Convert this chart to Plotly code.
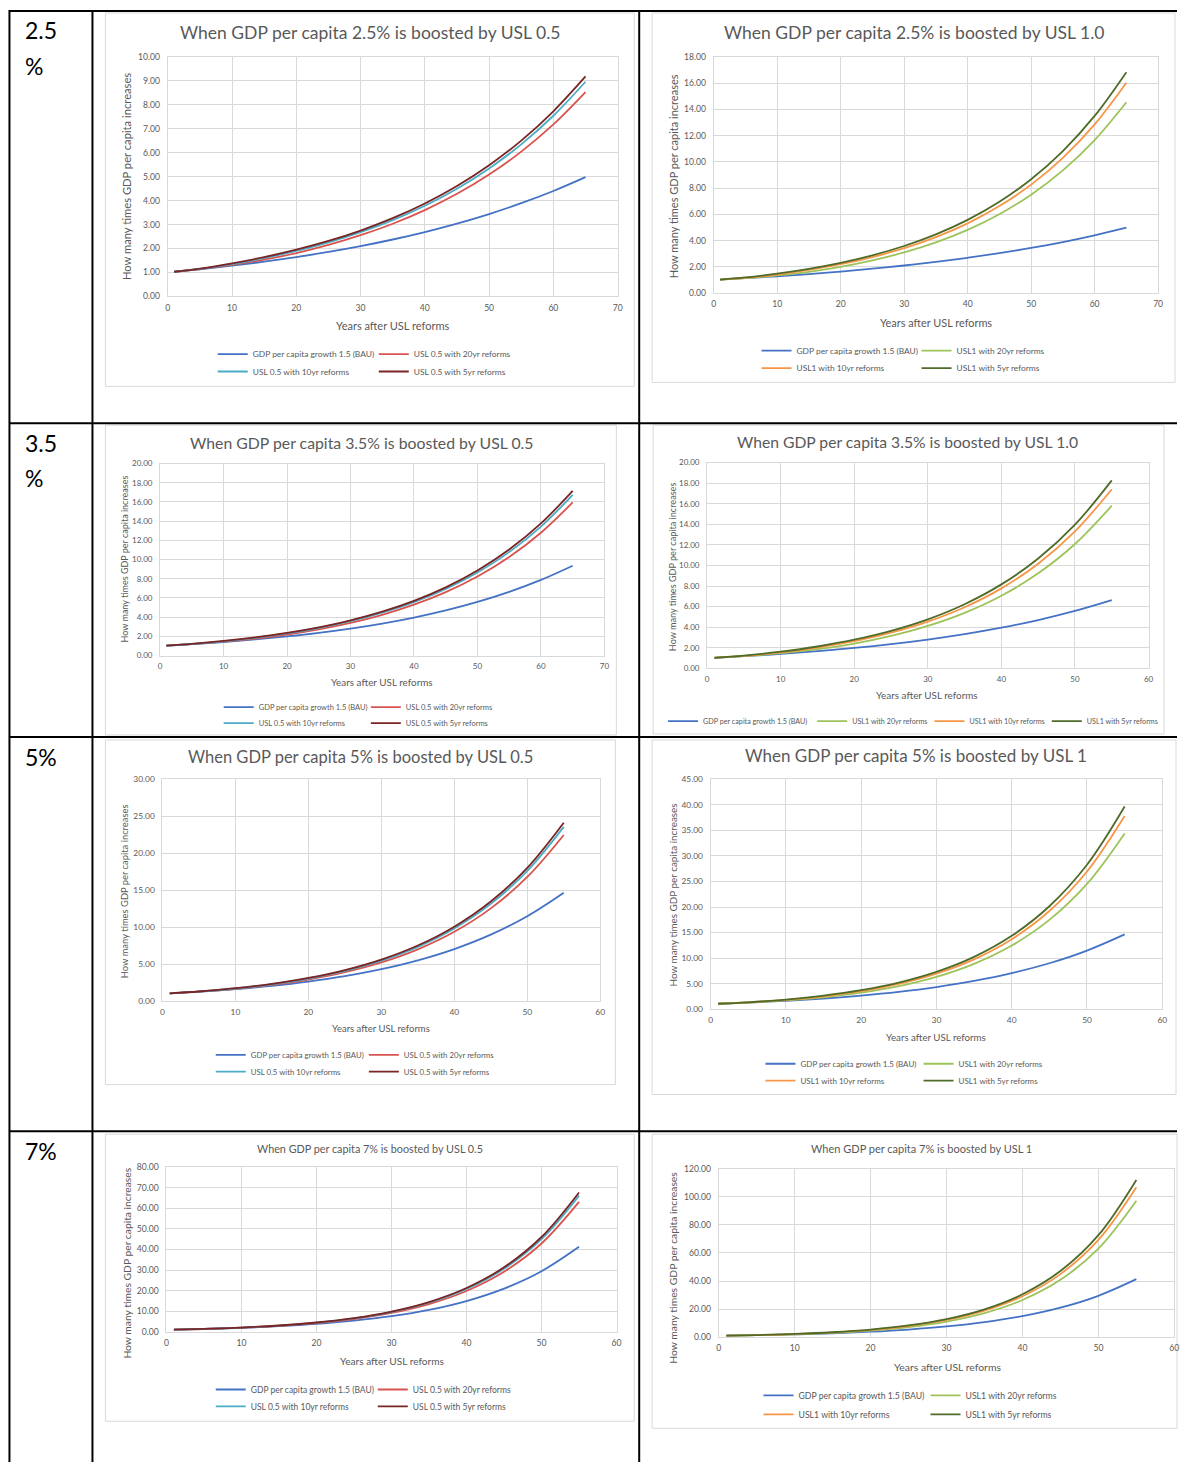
import plotly.graph_objects as go

W, H = 1182, 1467
FONT = "Lato"
GREY_TXT = "#595959"
GRID = "#D9D9D9"

# ---------------- data ----------------
YEARS_65 = [1, 5, 10, 15, 20, 25, 30, 35, 40, 45, 50, 55, 60, 65]
YEARS_55 = [1, 5, 10, 15, 20, 25, 30, 35, 40, 45, 50, 55]

# 2.5 % growth
BAU_2_5 = [1.025, 1.131, 1.280, 1.448, 1.639, 1.854, 2.098, 2.373, 2.685, 3.038, 3.437, 3.889, 4.400, 4.978]
USL05_2_5_20YR = [1.025, 1.138, 1.312, 1.530, 1.807, 2.148, 2.552, 3.032, 3.603, 4.281, 5.087, 6.044, 7.182, 8.534]
USL05_2_5_10YR = [1.026, 1.145, 1.344, 1.597, 1.898, 2.255, 2.680, 3.184, 3.784, 4.496, 5.342, 6.348, 7.543, 8.963]
USL05_2_5_5YR = [1.026, 1.160, 1.378, 1.637, 1.945, 2.311, 2.746, 3.263, 3.878, 4.608, 5.475, 6.505, 7.730, 9.185]
USL1_2_5_20YR = [1.026, 1.145, 1.344, 1.616, 1.991, 2.484, 3.098, 3.864, 4.820, 6.012, 7.498, 9.352, 11.665, 14.550]
USL1_2_5_10YR = [1.026, 1.159, 1.411, 1.760, 2.195, 2.738, 3.415, 4.260, 5.313, 6.627, 8.266, 10.310, 12.859, 16.039]
USL1_2_5_5YR = [1.027, 1.188, 1.482, 1.848, 2.305, 2.875, 3.586, 4.473, 5.579, 6.958, 8.679, 10.825, 13.502, 16.841]

# 3.5 % growth
BAU_3_5 = [1.035, 1.188, 1.411, 1.675, 1.990, 2.363, 2.807, 3.334, 3.959, 4.702, 5.585, 6.633, 7.878, 9.357]
USL05_3_5_20YR = [1.035, 1.195, 1.445, 1.769, 2.192, 2.733, 3.408, 4.248, 5.297, 6.603, 8.232, 10.263, 12.795, 15.952]
USL05_3_5_10YR = [1.036, 1.202, 1.481, 1.846, 2.301, 2.869, 3.577, 4.460, 5.560, 6.931, 8.642, 10.773, 13.431, 16.745]
USL05_3_5_5YR = [1.036, 1.217, 1.517, 1.891, 2.358, 2.940, 3.665, 4.569, 5.696, 7.102, 8.854, 11.038, 13.761, 17.157]
USL1_3_5_20YR = [1.036, 1.202, 1.480, 1.867, 2.413, 3.157, 4.129, 5.401, 7.064, 9.240, 12.086, 15.809]
USL1_3_5_10YR = [1.036, 1.217, 1.554, 2.032, 2.658, 3.477, 4.547, 5.948, 7.780, 10.176, 13.311, 17.411]
USL1_3_5_5YR = [1.037, 1.246, 1.630, 2.133, 2.789, 3.648, 4.772, 6.242, 8.165, 10.679, 13.969, 18.271]

# 5 % growth
BAU_5 = [1.050, 1.276, 1.629, 2.079, 2.653, 3.386, 4.322, 5.516, 7.040, 8.985, 11.467, 14.636]
USL05_5_20YR = [1.050, 1.284, 1.668, 2.193, 2.918, 3.905, 5.226, 6.995, 9.362, 12.529, 16.769, 22.443]
USL05_5_10YR = [1.051, 1.292, 1.708, 2.286, 3.060, 4.095, 5.481, 7.335, 9.817, 13.139, 17.584, 23.534]
USL05_5_5YR = [1.051, 1.307, 1.749, 2.341, 3.133, 4.193, 5.612, 7.511, 10.053, 13.454, 18.007, 24.100]
USL1_5_20YR = [1.051, 1.292, 1.708, 2.313, 3.209, 4.503, 6.320, 8.870, 12.449, 17.471, 24.521, 34.414]
USL1_5_10YR = [1.051, 1.307, 1.791, 2.514, 3.528, 4.952, 6.950, 9.754, 13.689, 19.213, 26.964, 37.843]
USL1_5_5YR = [1.052, 1.338, 1.878, 2.636, 3.700, 5.193, 7.288, 10.228, 14.355, 20.147, 28.276, 39.684]

# 7 % growth
BAU_7 = [1.070, 1.403, 1.967, 2.759, 3.870, 5.427, 7.612, 10.677, 14.975, 21.003, 29.457, 41.315]
USL05_7_20YR = [1.070, 1.411, 2.014, 2.909, 4.251, 6.249, 9.187, 13.505, 19.853, 29.185, 42.903, 63.069]
USL05_7_10YR = [1.071, 1.419, 2.062, 3.031, 4.456, 6.550, 9.629, 14.155, 20.808, 30.589, 44.967, 66.104]
USL05_7_5YR = [1.071, 1.436, 2.111, 3.103, 4.562, 6.706, 9.858, 14.492, 21.303, 31.316, 46.037, 67.676]
USL1_7_20YR = [1.071, 1.419, 2.063, 3.070, 4.679, 7.217, 11.131, 17.168, 26.479, 40.839, 62.987, 97.147]
USL1_7_10YR = [1.071, 1.436, 2.163, 3.336, 5.146, 7.936, 12.241, 18.879, 29.118, 44.909, 69.265, 106.829]
USL1_7_5YR = [1.072, 1.471, 2.268, 3.499, 5.396, 8.323, 12.836, 19.797, 30.534, 47.094, 72.634, 112.025]

LABELS_USL05 = ["GDP per capita growth 1.5 (BAU)", "USL 0.5 with 20yr reforms",
                "USL 0.5 with 10yr reforms", "USL 0.5 with 5yr reforms"]
LABELS_USL1 = ["GDP per capita growth 1.5 (BAU)", "USL1 with 20yr reforms",
               "USL1 with 10yr reforms", "USL1 with 5yr reforms"]
COLORS_USL05 = ["#4472C4", "#D9534F", "#4BACC6", "#7A2424"]
COLORS_USL1 = ["#4472C4", "#9DC35A", "#F79646", "#4F6B28"]

ROW_LABELS = [("2.5", 25), ("%", 61), ("3.5", 441), ("%", 476), ("5%", 757), ("7%", 1154)]

TITLES = [
    "When GDP per capita 2.5% is boosted by USL 0.5",
    "When GDP per capita 2.5% is boosted by USL 1.0",
    "When GDP per capita 3.5% is boosted by USL 0.5",
    "When GDP per capita 3.5% is boosted by USL 1.0",
    "When GDP per capita 5% is boosted by USL 0.5",
    "When GDP per capita 5% is boosted by USL 1",
    "When GDP per capita 7% is boosted by USL 0.5",
    "When GDP per capita 7% is boosted by USL 1",
]
Y_TITLE = "How many times GDP per capita increases"
X_TITLE = "Years after USL reforms"

# ---------------- chart layout specs (pixel positions) ----------------
CHARTS = [
    dict(x=YEARS_65, ys=[BAU_2_5, USL05_2_5_20YR, USL05_2_5_10YR, USL05_2_5_5YR], lab=LABELS_USL05, col=COLORS_USL05,
         px=(166.8, 619.3), py=(52.3, 293.3), xmax=70, ymax=10, dy=1, box=(104, 8, 636, 384),
         t=(370, 27.5, 17.5), yt=(126, 173, 11.2), xt=(393, 323, 11.0), tick=8.6,
         leg=[(217, 351.5), (379, 351.5), (217, 369), (379, 369)], lf=8.4),
    dict(x=YEARS_65, ys=[BAU_2_5, USL1_2_5_20YR, USL1_2_5_10YR, USL1_2_5_5YR], lab=LABELS_USL1, col=COLORS_USL1,
         px=(715.9, 1163), py=(52.3, 290), xmax=70, ymax=18, dy=2, box=(654, 8, 1180, 380),
         t=(917, 27.5, 17.5), yt=(675.5, 172, 11.0), xt=(940, 319.5, 10.9), tick=8.6,
         leg=[(764, 348), (925, 348), (764, 365.7), (925, 365.7)], lf=8.4),
    dict(x=YEARS_65, ys=[BAU_3_5, USL05_3_5_20YR, USL05_3_5_10YR, USL05_3_5_5YR], lab=LABELS_USL05, col=COLORS_USL05,
         px=(159, 606), py=(461.7, 655), xmax=70, ymax=20, dy=2, box=(104, 423, 618, 735),
         t=(362, 440, 15.8), yt=(123, 558, 9.0), xt=(382, 682, 9.9), tick=8.0,
         leg=[(223, 707), (371, 707), (223, 723), (371, 723)], lf=7.5),
    dict(x=YEARS_55, ys=[BAU_3_5[:12], USL1_3_5_20YR, USL1_3_5_10YR, USL1_3_5_5YR], lab=LABELS_USL1, col=COLORS_USL1,
         px=(709.3, 1153.4), py=(460.7, 668), xmax=60, ymax=20, dy=2, box=(655, 423, 1169, 734),
         t=(911, 440, 15.7), yt=(674, 566, 9.1), xt=(931, 695, 9.9), tick=8.0,
         leg=[(670, 721), (820, 721), (938, 721), (1056, 721)], lf=7.2),
    dict(x=YEARS_55, ys=[BAU_5, USL05_5_20YR, USL05_5_10YR, USL05_5_5YR], lab=LABELS_USL05, col=COLORS_USL05,
         px=(161.4, 601.8), py=(779.3, 1003), xmax=60, ymax=30, dy=5, box=(104, 740, 617, 1087),
         t=(361, 757, 16.5), yt=(124, 892, 9.4), xt=(381, 1031, 9.5), tick=8.4,
         leg=[(215, 1057), (369, 1057), (215, 1074), (369, 1074)], lf=7.8),
    dict(x=YEARS_55, ys=[BAU_5, USL1_5_20YR, USL1_5_10YR, USL1_5_5YR], lab=LABELS_USL1, col=COLORS_USL1,
         px=(712.8, 1167.2), py=(779.7, 1011), xmax=60, ymax=45, dy=5, box=(654, 740, 1181, 1097),
         t=(919, 756, 17.0), yt=(674.5, 896, 9.9), xt=(940, 1039, 9.7), tick=8.4,
         leg=[(768, 1066), (927, 1066), (768, 1083), (927, 1083)], lf=8.0),
    dict(x=YEARS_55, ys=[BAU_7, USL05_7_20YR, USL05_7_10YR, USL05_7_5YR], lab=LABELS_USL05, col=COLORS_USL05,
         px=(165.4, 618.2), py=(1170, 1336), xmax=60, ymax=80, dy=10, box=(104, 1137, 636, 1426),
         t=(370, 1151, 10.8), yt=(126, 1267, 10.3), xt=(392, 1365, 10.1), tick=8.6,
         leg=[(215, 1394), (378, 1394), (215, 1411), (378, 1411)], lf=8.5),
    dict(x=YEARS_55, ys=[BAU_7, USL1_7_20YR, USL1_7_10YR, USL1_7_5YR], lab=LABELS_USL1, col=COLORS_USL1,
         px=(721, 1179.3), py=(1171.7, 1341.3), xmax=60, ymax=120, dy=20, box=(654, 1137, 1182, 1433),
         t=(925, 1151, 11.0), yt=(675.5, 1271, 10.35), xt=(951, 1371, 10.4), tick=8.6,
         leg=[(766, 1400), (934, 1400), (766, 1419), (934, 1419)], lf=8.7),
]


def fx(p):
    return p / W


def fy(p):
    return 1 - p / H


fig = go.Figure()
layout = dict(
    width=W, height=H, margin=dict(l=0, r=0, t=0, b=0, pad=0), autosize=False,
    paper_bgcolor="white", plot_bgcolor="white", hovermode=False, showlegend=True,
    font=dict(family=FONT, color=GREY_TXT),
)
annotations = []
shapes = []

# table grid lines
for y in [6, 421, 737, 1134]:
    shapes.append(dict(type="line", xref="paper", yref="paper", x0=fx(7), x1=1, y0=fy(y), y1=fy(y),
                       line=dict(color="black", width=2)))
for x in [7.5, 91, 641]:
    shapes.append(dict(type="line", xref="paper", yref="paper", x0=fx(x), x1=fx(x), y0=fy(5), y1=0,
                       line=dict(color="black", width=2)))

for txt, yc in ROW_LABELS:
    annotations.append(dict(text=txt, x=fx(21), y=fy(yc), xref="paper", yref="paper", xanchor="left",
                            yanchor="middle", showarrow=False, font=dict(family=FONT, size=23, color="black")))

leg_n = 0
for ci, ch in enumerate(CHARTS, start=1):
    xa = "x" if ci == 1 else f"x{ci}"
    ya = "y" if ci == 1 else f"y{ci}"
    xk = "xaxis" if ci == 1 else f"xaxis{ci}"
    yk = "yaxis" if ci == 1 else f"yaxis{ci}"
    for si in range(4):
        leg_n += 1
        lk = "legend" if leg_n == 1 else f"legend{leg_n}"
        fig.add_trace(go.Scatter(
            x=ch["x"], y=ch["ys"][si], mode="lines", name=ch["lab"][si], showlegend=True,
            line=dict(color=ch["col"][si], width=1.8, shape="spline", smoothing=1.0),
            xaxis=xa, yaxis=ya, legend=lk, hoverinfo="skip",
        ))
        lx, ly = ch["leg"][si]
        layout[lk] = dict(x=fx(lx - 5), y=fy(ly), xanchor="left", yanchor="middle", orientation="h",
                          bgcolor="rgba(0,0,0,0)", borderwidth=0, visible=True,
                          font=dict(family=FONT, size=ch["lf"], color=GREY_TXT))
    x0, x1 = ch["px"]
    y0, y1 = ch["py"]
    layout[xk] = dict(domain=[fx(x0), fx(x1)], anchor=ya, range=[0, ch["xmax"]], dtick=10, tick0=0,
                      showgrid=True, gridcolor=GRID, gridwidth=1, zeroline=False, showline=True,
                      linecolor=GRID, linewidth=1, mirror=True, ticks="", ticklabelstandoff=3,
                      tickfont=dict(family=FONT, size=ch["tick"], color=GREY_TXT), fixedrange=True)
    layout[yk] = dict(domain=[fy(y1), fy(y0)], anchor=xa, range=[0, ch["ymax"]], dtick=ch["dy"], tick0=0,
                      tickformat=".2f", showgrid=True, gridcolor=GRID, gridwidth=1, zeroline=False,
                      showline=True, linecolor=GRID, linewidth=1, mirror=True, ticks="",
                      ticklabelstandoff=5,
                      tickfont=dict(family=FONT, size=ch["tick"], color=GREY_TXT), fixedrange=True)
    bx0, by0, bx1, by1 = ch["box"]
    shapes.append(dict(type="rect", xref="paper", yref="paper", x0=fx(bx0), x1=fx(bx1), y0=fy(by1), y1=fy(by0),
                       line=dict(color=GRID, width=1), fillcolor="rgba(0,0,0,0)", layer="below"))
    tx, ty, ts = ch["t"]
    annotations.append(dict(text=TITLES[ci - 1], x=fx(tx), y=fy(ty), xref="paper", yref="paper",
                            xanchor="center", yanchor="middle", showarrow=False,
                            font=dict(family=FONT, size=ts, color=GREY_TXT)))
    yx, yy, ys = ch["yt"]
    annotations.append(dict(text=Y_TITLE, x=fx(yx), y=fy(yy), xref="paper", yref="paper", textangle=-90,
                            xanchor="center", yanchor="middle", showarrow=False,
                            font=dict(family=FONT, size=ys, color=GREY_TXT)))
    xx, xy, xs = ch["xt"]
    annotations.append(dict(text=X_TITLE, x=fx(xx), y=fy(xy), xref="paper", yref="paper",
                            xanchor="center", yanchor="middle", showarrow=False,
                            font=dict(family=FONT, size=xs, color=GREY_TXT)))

layout["annotations"] = annotations
layout["shapes"] = shapes
fig.update_layout(**layout)

PAGE_JS = (
    "document.documentElement.style.margin='0';document.documentElement.style.padding='0';"
    "document.documentElement.style.overflow='hidden';"
    "document.body.style.margin='0';document.body.style.padding='0';document.body.style.overflow='hidden';"
)
fig.write_html("out.html", config={"displayModeBar": False}, post_script=PAGE_JS)
